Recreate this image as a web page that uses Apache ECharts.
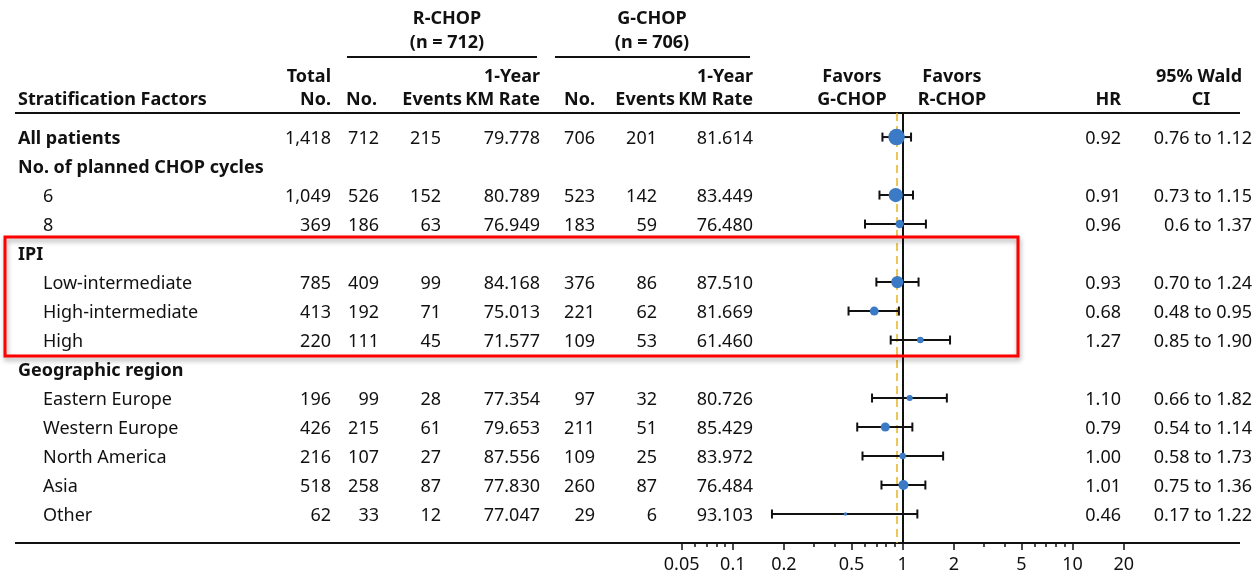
<!DOCTYPE html>
<html>
<head>
<meta charset="utf-8">
<script src="https://cdn.jsdelivr.net/npm/echarts@6/dist/echarts.min.js"></script>
<style>
  html, body { margin: 0; padding: 0; background: #fff; }
  #chart { width: 1256px; height: 577px; }
</style>
</head>
<body>
<div id="chart"></div>
<script>
// ---- data ----
const rowLabels = [
  'All patients', 'No. of planned CHOP cycles', '6', '8',
  'IPI', 'Low-intermediate', 'High-intermediate', 'High',
  'Geographic region', 'Eastern Europe', 'Western Europe', 'North America', 'Asia', 'Other'
];
const groupRows = [true, true, false, false, true, false, false, false, true, false, false, false, false, false];

const totalNo   = [1418, null, 1049, 369, null, 785, 413, 220, null, 196, 426, 216, 518, 62];
const rchopNo   = [712, null, 526, 186, null, 409, 192, 111, null, 99, 215, 107, 258, 33];
const rchopEvt  = [215, null, 152, 63, null, 99, 71, 45, null, 28, 61, 27, 87, 12];
const rchopKM   = ['79.778', null, '80.789', '76.949', null, '84.168', '75.013', '71.577', null, '77.354', '79.653', '87.556', '77.830', '77.047'];
const gchopNo   = [706, null, 523, 183, null, 376, 221, 109, null, 97, 211, 109, 260, 29];
const gchopEvt  = [201, null, 142, 59, null, 86, 62, 53, null, 32, 51, 25, 87, 6];
const gchopKM   = ['81.614', null, '83.449', '76.480', null, '87.510', '81.669', '61.460', null, '80.726', '85.429', '83.972', '76.484', '93.103'];
const hrText     = ['0.92', null, '0.91', '0.96', null, '0.93', '0.68', '1.27', null, '1.10', '0.79', '1.00', '1.01', '0.46'];
const ciLowText  = ['0.76', null, '0.73', '0.6', null, '0.70', '0.48', '0.85', null, '0.66', '0.54', '0.58', '0.75', '0.17'];
const ciHighText = ['1.12', null, '1.15', '1.37', null, '1.24', '0.95', '1.90', null, '1.82', '1.14', '1.73', '1.36', '1.22'];

const majorTicks = [0.05, 0.1, 0.2, 0.5, 1, 2, 5, 10, 20];
const minorTicks = [0.06, 0.07, 0.08, 0.09, 0.3, 0.4, 0.6, 0.7, 0.8, 0.9, 3, 4, 6, 7, 8, 9];

// ---- styling ----
const FONT = '"Noto Sans", "Liberation Sans", Arial, sans-serif';
const TEXT = '#111';
const DOT = '#3b7ac4';
const F_REG = '18px ' + FONT;
const F_BOLD = 'bold 18px ' + FONT;
const TEXT_DY = 2; // optical centring of the text on each row

const withCommas = v => v.toLocaleString('en-US');
const plain = v => String(v);

// table columns (right-aligned at x)
const tableColumns = [
  { x: 331,  values: totalNo,  format: withCommas },
  { x: 379,  values: rchopNo,  format: plain },
  { x: 441,  values: rchopEvt, format: plain },
  { x: 540,  values: rchopKM,  format: plain },
  { x: 595,  values: gchopNo,  format: plain },
  { x: 657,  values: gchopEvt, format: plain },
  { x: 753,  values: gchopKM,  format: plain },
  { x: 1121, values: hrText,   format: plain }
];

// header texts
const headerTexts = [
  { t: 'R-CHOP', x: 447, y: 17, a: 'center' },
  { t: '(n = 712)', x: 447, y: 41, a: 'center' },
  { t: 'G-CHOP', x: 652, y: 17, a: 'center' },
  { t: '(n = 706)', x: 652, y: 41, a: 'center' },
  { t: 'Total', x: 331, y: 75, a: 'right' },
  { t: 'No.', x: 331, y: 98, a: 'right' },
  { t: 'Stratification Factors', x: 18, y: 98, a: 'left' },
  { t: 'No.', x: 377, y: 98, a: 'right' },
  { t: 'Events', x: 462, y: 98, a: 'right' },
  { t: '1-Year', x: 540, y: 75, a: 'right' },
  { t: 'KM Rate', x: 540, y: 98, a: 'right' },
  { t: 'No.', x: 595, y: 98, a: 'right' },
  { t: 'Events', x: 675, y: 98, a: 'right' },
  { t: '1-Year', x: 753, y: 75, a: 'right' },
  { t: 'KM Rate', x: 753, y: 98, a: 'right' },
  { t: 'Favors', x: 852, y: 75, a: 'center' },
  { t: 'G-CHOP', x: 852, y: 98, a: 'center' },
  { t: 'Favors', x: 952, y: 75, a: 'center' },
  { t: 'R-CHOP', x: 952, y: 98, a: 'center' },
  { t: 'HR', x: 1121, y: 98, a: 'right' },
  { t: '95% Wald', x: 1199, y: 75, a: 'center' },
  { t: 'CI', x: 1201, y: 98, a: 'center' }
];

const graphics = headerTexts.map(h => ({
  type: 'text', silent: true,
  style: { text: h.t, x: h.x, y: h.y + TEXT_DY, align: h.a, verticalAlign: 'middle', font: F_BOLD, fill: TEXT }
}));
const rule = (x1, x2, y) => ({
  type: 'line', silent: true,
  shape: { x1, y1: y, x2, y2: y },
  style: { stroke: TEXT, lineWidth: 2 }
});
graphics.push(rule(347, 537, 57), rule(555, 750, 57), rule(15, 1240, 113), rule(15, 1240, 543));
// highlight frame round the IPI block
graphics.push({
  type: 'rect', silent: true, z: 100,
  shape: { x: 5, y: 237, width: 1013, height: 119 },
  style: {
    fill: 'none', stroke: '#ff0000', lineWidth: 3,
    shadowBlur: 5, shadowOffsetX: 1, shadowOffsetY: 3, shadowColor: 'rgba(0,0,0,0.35)'
  }
});

// ---- series data ----
const rowIdx = rowLabels.map((_, i) => i);
const ciData = rowIdx.filter(i => hrText[i] !== null)
  .map(i => [parseFloat(ciLowText[i]), parseFloat(ciHighText[i]), i]);
const pointData = rowIdx.filter(i => hrText[i] !== null)
  .map(i => [parseFloat(hrText[i]), i, totalNo[i]]);
const overallHR = parseFloat(hrText[0]);

function renderTableRow(params, api) {
  const i = api.value(1);
  const y = api.coord([1, i])[1] + TEXT_DY;
  const bold = groupRows[i];
  const children = [{
    type: 'text',
    style: { text: rowLabels[i], x: bold ? 18 : 43, y, align: 'left', verticalAlign: 'middle',
      font: bold ? F_BOLD : F_REG, fill: TEXT }
  }];
  tableColumns.forEach(col => {
    const v = col.values[i];
    if (v === null) return;
    children.push({
      type: 'text',
      style: { text: col.format(v), x: col.x, y, align: 'right', verticalAlign: 'middle', font: F_REG, fill: TEXT }
    });
  });
  if (ciLowText[i] !== null) {
    children.push({
      type: 'text',
      style: { text: ciLowText[i] + ' to ' + ciHighText[i], x: 1252, y, align: 'right',
        verticalAlign: 'middle', font: F_REG, fill: TEXT }
    });
  }
  return { type: 'group', children };
}

function renderCI(params, api) {
  const i = api.value(2);
  const p1 = api.coord([api.value(0), i]);
  const p2 = api.coord([api.value(1), i]);
  const cap = 4.5;
  const st = { stroke: TEXT, lineWidth: 2 };
  return {
    type: 'group',
    children: [
      { type: 'line', shape: { x1: p1[0], y1: p1[1], x2: p2[0], y2: p2[1] }, style: st },
      { type: 'line', shape: { x1: p1[0], y1: p1[1] - cap, x2: p1[0], y2: p1[1] + cap }, style: st },
      { type: 'line', shape: { x1: p2[0], y1: p2[1] - cap, x2: p2[0], y2: p2[1] + cap }, style: st }
    ]
  };
}

const chart = echarts.init(document.getElementById('chart'), null, { renderer: 'canvas' });
chart.setOption({
  animation: false,
  backgroundColor: '#fff',
  graphic: graphics,
  grid: { left: 644, right: 102.4, top: 113, bottom: 34 },
  xAxis: [
    {
      type: 'log', min: 0.03, max: 30, position: 'bottom',
      axisLine: { show: false, onZero: false },
      splitLine: { show: false },
      axisTick: { show: true, customValues: majorTicks, length: 7, lineStyle: { color: TEXT, width: 1.5 } },
      axisLabel: {
        show: true, customValues: majorTicks, margin: 13,
        formatter: v => String(+Number(v).toPrecision(3)),
        fontFamily: FONT, fontSize: 18, color: TEXT
      }
    },
    {
      type: 'log', min: 0.03, max: 30, position: 'bottom',
      axisLine: { show: false, onZero: false },
      splitLine: { show: false },
      axisTick: { show: true, customValues: minorTicks, length: 4, lineStyle: { color: TEXT, width: 1.5 } },
      axisLabel: { show: false }
    }
  ],
  yAxis: { type: 'value', inverse: true, min: -0.83, max: 14, show: false },
  series: [
    {
      type: 'custom', name: 'table', renderItem: renderTableRow, silent: true,
      data: rowIdx.map(i => [1, i]), encode: { x: 0, y: 1 }, z: 1
    },
    {
      type: 'custom', name: 'ci', renderItem: renderCI, silent: true,
      data: ciData, encode: { x: [0, 1], y: 2 }, z: 3
    },
    {
      type: 'scatter', name: 'HR', silent: true,
      data: pointData,
      symbolSize: v => 16.5 * Math.sqrt(v[2] / totalNo[0]),
      itemStyle: { color: DOT, opacity: 1 },
      z: 4,
      markLine: {
        silent: true, symbol: 'none', label: { show: false }, z: 2,
        data: [
          { xAxis: 1, lineStyle: { color: TEXT, width: 2, type: 'solid' } },
          { xAxis: overallHR, lineStyle: { color: '#e6b422', width: 1.5, type: [8, 5] } }
        ]
      }
    }
  ]
});
</script>
</body>
</html>
